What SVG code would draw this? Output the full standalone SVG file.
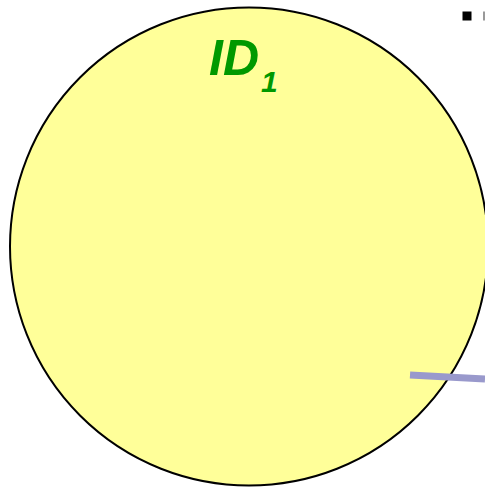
<svg xmlns="http://www.w3.org/2000/svg" width="485" height="489" viewBox="0 0 485 489">
<style>
.lbl{font-family:"Liberation Sans",Arial,sans-serif;font-weight:bold;font-style:italic;fill:#009900}
</style>
<rect width="485" height="489" fill="#ffffff"/>
<g id="circle">
<circle cx="249" cy="246.5" r="239" fill="#ffff99" stroke="#000000" stroke-width="2"/>
<text class="lbl" x="209" y="75" font-size="50">ID<tspan font-size="30" dx="2" dy="17">1</tspan></text>
</g>
<g id="connectors">
<line x1="410" y1="375" x2="485" y2="379" stroke="#9999cc" stroke-width="7"/>
</g>
<g id="bullet">
<rect x="462.5" y="11.5" width="9" height="9" fill="#000000"/>
<rect x="483" y="11.5" width="2" height="9" fill="#999999"/>
</g>
</svg>
